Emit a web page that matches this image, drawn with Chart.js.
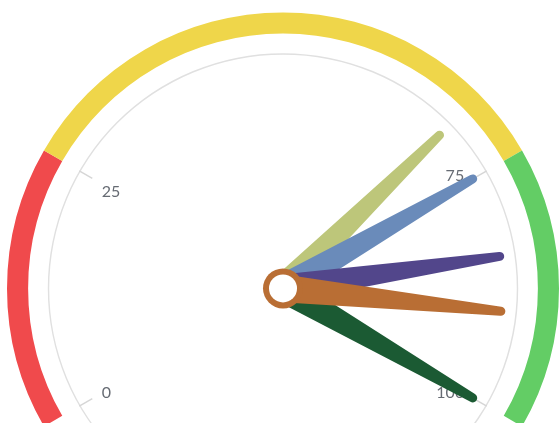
<!DOCTYPE html>
<html>
<head>
<meta charset="utf-8">
<script src="https://cdn.jsdelivr.net/npm/chart.js@4.4.0/dist/chart.umd.min.js"></script>
<style>
    html, body { margin: 0; padding: 0; background: #fff; overflow: hidden; }
    #wrap { position: relative; width: 559px; height: 484px; }
</style>
</head>
<body>
<div id="wrap"><canvas id="gaugeChart"></canvas></div>
<script>
// Gauge range
const gaugeMin = 0;
const gaugeMax = 100;

// Colour bands on the outer ring (widths in gauge units)
const bandSizes = [25, 50, 25];
const bandColors = ['#F04A4C', '#EFD64A', '#63CD65'];

// Axis ticks
const tickValues = [0, 25, 75, 100];
const tickLabels = ['0', '25', '75', '100'];

// Pointers, in draw order
const needleValues = [69, 75, 84, 100, 90];
const needleColors = ['#BDC67A', '#6A8BBA', '#52468B', '#1B5A33', '#B96E34'];

document.addEventListener('DOMContentLoaded', function () {
    Chart.defaults.font.family = "Lato, sans-serif";

    // maps a gauge value to an angle using the band ring's own arcs
    function valueToAngle(chart, v) {
        const arcs = chart.getDatasetMeta(0).data;
        const a0 = arcs[0].startAngle;
        const a1 = arcs[arcs.length - 1].endAngle;
        return a0 + (v - gaugeMin) / (gaugeMax - gaugeMin) * (a1 - a0);
    }

    const gaugeOverlay = {
        id: 'gaugeOverlay',
        afterDatasetsDraw(chart) {
            const ctx = chart.ctx;
            const band = chart.getDatasetMeta(0).data[0];
            const axis = chart.getDatasetMeta(2).data[0];
            const cx = band.x, cy = band.y;
            const R = band.outerRadius;
            const rAxis = axis.outerRadius;

            // ticks + labels
            ctx.save();
            ctx.strokeStyle = '#d6d6d6';
            ctx.lineWidth = 1.5;
            ctx.fillStyle = '#666b73';
            ctx.font = "16px Lato, sans-serif";
            tickValues.forEach((v, i) => {
                const a = valueToAngle(chart, v);
                const c = Math.cos(a), s = Math.sin(a);
                ctx.beginPath();
                ctx.moveTo(cx + c * rAxis, cy + s * rAxis);
                ctx.lineTo(cx + c * (rAxis - 15), cy + s * (rAxis - 15));
                ctx.stroke();
                // label anchored inside the tick, aligned away from the rim
                const rl = rAxis - 26;
                ctx.textAlign = c < -0.4 ? 'left' : (c > 0.4 ? 'right' : 'center');
                ctx.textBaseline = s < -0.4 ? (c < 0 ? 'top' : 'bottom') : 'middle';
                ctx.fillText(tickLabels[i], cx + c * rl, cy + s * rl);
            });
            ctx.restore();

            // needles
            const L = R * 0.81;
            const wb = 14, wt = 4.5;
            needleValues.forEach((v, i) => {
                const a = valueToAngle(chart, v);
                const ux = Math.cos(a), uy = Math.sin(a);
                const nx = -uy, ny = ux;
                const tx = cx + ux * (L - wt), ty = cy + uy * (L - wt);
                ctx.save();
                ctx.fillStyle = needleColors[i];
                ctx.beginPath();
                ctx.moveTo(cx + nx * wb, cy + ny * wb);
                ctx.lineTo(tx + nx * wt, ty + ny * wt);
                ctx.arc(tx, ty, wt, a + Math.PI / 2, a - Math.PI / 2, true);
                ctx.lineTo(cx - nx * wb, cy - ny * wb);
                ctx.closePath();
                ctx.fill();
                ctx.restore();
            });

            // pivot
            ctx.save();
            ctx.beginPath();
            ctx.arc(cx, cy, 20, 0, Math.PI * 2);
            ctx.fillStyle = '#B96E34';
            ctx.fill();
            ctx.beginPath();
            ctx.arc(cx, cy, 14, 0, Math.PI * 2);
            ctx.fillStyle = '#fff';
            ctx.fill();
            ctx.restore();
        }
    };

    const ctx = document.getElementById('gaugeChart').getContext('2d');
    new Chart(ctx, {
        type: 'doughnut',
        data: {
            labels: ['low', 'mid', 'high'],
            datasets: [{
                // outer colour band
                data: bandSizes,
                backgroundColor: bandColors,
                borderWidth: 0,
                weight: 22,
                rotation: -120,
                circumference: 240
            }, {
                // empty gap between band and axis line
                data: [gaugeMax - gaugeMin],
                backgroundColor: 'rgba(0,0,0,0)',
                borderWidth: 0,
                weight: 20.5,
                rotation: -120,
                circumference: 240
            }, {
                // thin grey axis line
                data: [gaugeMax - gaugeMin],
                backgroundColor: '#e0e0e0',
                borderWidth: 0,
                weight: 1.5,
                rotation: -135,
                circumference: 270
            }]
        },
        options: {
            responsive: true,
            maintainAspectRatio: false,
            animation: false,
            cutout: '84.7%',
            layout: { padding: { top: 12, left: 7, right: 0, bottom: 0 } },
            events: [],
            plugins: {
                legend: { display: false },
                tooltip: { enabled: false }
            }
        },
        plugins: [gaugeOverlay]
    });
});
</script>
</body>
</html>
